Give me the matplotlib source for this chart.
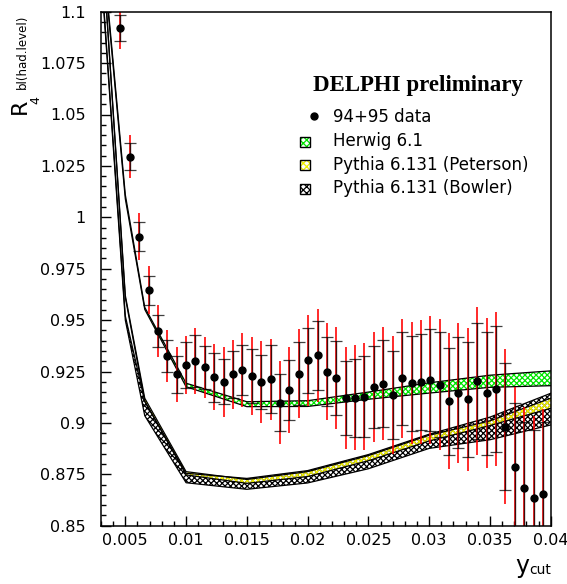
import matplotlib
matplotlib.use('Agg')
import matplotlib.pyplot as plt
from matplotlib.patches import Rectangle
from matplotlib.lines import Line2D

plt.rcParams['hatch.linewidth'] = 0.9

# data points: ycut, R4 value, stat error (black), total error (red)
ycut = [0.00459, 0.00536, 0.00614, 0.00691, 0.00768, 0.00845, 0.00923, 0.01000,
        0.01077, 0.01155, 0.01232, 0.01309, 0.01386, 0.01464, 0.01541, 0.01618,
        0.01696, 0.01773, 0.01850, 0.01927, 0.02005, 0.02082, 0.02159, 0.02236,
        0.02314, 0.02391, 0.02468, 0.02546, 0.02623, 0.02700, 0.02777, 0.02855,
        0.02932, 0.03009, 0.03087, 0.03164, 0.03241, 0.03318, 0.03396, 0.03473,
        0.03550, 0.03628, 0.03705, 0.03782, 0.03859, 0.03937]
r4 = [1.0920, 1.0295, 0.9906, 0.9645, 0.9448, 0.9325, 0.9236, 0.9282,
      0.9301, 0.9270, 0.9222, 0.9200, 0.9236, 0.9257, 0.9228, 0.9198,
      0.9212, 0.9099, 0.9160, 0.9240, 0.9304, 0.9328, 0.9250, 0.9218,
      0.9120, 0.9123, 0.9127, 0.9175, 0.9191, 0.9136, 0.9217, 0.9193,
      0.9199, 0.9209, 0.9186, 0.9105, 0.9147, 0.9115, 0.9204, 0.9144,
      0.9163, 0.8982, 0.8787, 0.8682, 0.8636, 0.8656]
err_stat = [0.0062, 0.0065, 0.0069, 0.0070, 0.0077, 0.0077, 0.0090, 0.0110,
            0.0125, 0.0105, 0.0120, 0.0110, 0.0113, 0.0120, 0.0130, 0.0130,
            0.0166, 0.0140, 0.0146, 0.0152, 0.0160, 0.0168, 0.0170, 0.0178,
            0.0180, 0.0190, 0.0196, 0.0200, 0.0210, 0.0216, 0.0225, 0.0230,
            0.0235, 0.0247, 0.0255, 0.0260, 0.0270, 0.0280, 0.0280, 0.0300,
            0.0306, 0.0310, 0.0310, 0.0320, 0.0330, 0.0350]
err_tot = [0.0100, 0.0105, 0.0113, 0.0116, 0.0126, 0.0126, 0.0134, 0.0140,
           0.0160, 0.0150, 0.0160, 0.0170, 0.0166, 0.0180, 0.0190, 0.0200,
           0.0198, 0.0200, 0.0210, 0.0216, 0.0220, 0.0227, 0.0235, 0.0247,
           0.0247, 0.0257, 0.0260, 0.0267, 0.0276, 0.0285, 0.0290, 0.0296,
           0.0300, 0.0310, 0.0320, 0.0330, 0.0340, 0.0348, 0.0358, 0.0365,
           0.0375, 0.0378, 0.0390, 0.0397, 0.0397, 0.0410]

# MC bands (upper / lower edge at each ycut node)
mc_x = [0.003, 0.005, 0.0066, 0.01, 0.015, 0.02, 0.025, 0.03, 0.035, 0.04]
herwig_hi = [1.140, 1.011, 0.9562, 0.9193, 0.9103, 0.9108, 0.9150, 0.9195, 0.9232, 0.9253]
herwig_lo = [1.138, 1.009, 0.9552, 0.9176, 0.9079, 0.9080, 0.9115, 0.9145, 0.9173, 0.9181]
peterson_hi = [1.142, 0.962, 0.9120, 0.8763, 0.8725, 0.8763, 0.8841, 0.8940, 0.9010, 0.9120]
peterson_lo = [1.141, 0.961, 0.9105, 0.8747, 0.8706, 0.8739, 0.8816, 0.8912, 0.8987, 0.9071]
bowler_hi = [1.122, 0.952, 0.9105, 0.8755, 0.8730, 0.8768, 0.8846, 0.8945, 0.9028, 0.9144]
bowler_lo = [1.120, 0.950, 0.9035, 0.8709, 0.8677, 0.8708, 0.8777, 0.8876, 0.8918, 0.8990]

legend_labels = ['94+95 data', 'Herwig 6.1', 'Pythia 6.131 (Peterson)', 'Pythia 6.131 (Bowler)']
band_colors = ['#00e600', '#f0f000', 'black']

yticks = [0.85, 0.875, 0.9, 0.925, 0.95, 0.975, 1.0, 1.025, 1.05, 1.075, 1.1]
ytick_labels = ['0.85', '0.875', '0.9', '0.925', '0.95', '0.975', '1', '1.025', '1.05', '1.075', '1.1']
xticks = [0.005, 0.01, 0.015, 0.02, 0.025, 0.03, 0.035, 0.04]
xtick_labels = ['0.005', '0.01', '0.015', '0.02', '0.025', '0.03', '0.035', '0.04']

W, H = 567, 584
fig = plt.figure(figsize=(W / 100, H / 100), dpi=100)
ax = fig.add_axes([101 / W, 58.3 / H, 449.7 / W, 514 / H])


def fx(px):
    return px / W


def fy(py):
    return 1 - py / H


# bands
bands = [(bowler_lo, bowler_hi, band_colors[2]),
         (peterson_lo, peterson_hi, band_colors[1]),
         (herwig_lo, herwig_hi, band_colors[0])]
for lo, hi, col in bands:
    ax.fill_between(mc_x, lo, hi, facecolor='none', edgecolor=col, hatch='xxxxxx', lw=0)
    ax.plot(mc_x, hi, color='black', lw=0.9)
    ax.plot(mc_x, lo, color='black', lw=0.9)

# data
ax.errorbar(ycut, r4, yerr=err_tot, fmt='none', ecolor='red', elinewidth=1.3, alpha=0.9)
ax.errorbar(ycut, r4, yerr=err_stat, fmt='none', ecolor='black', elinewidth=1.0,
            capsize=4.5, capthick=0.9, alpha=0.75)
ax.plot(ycut, r4, 'o', color='black', markersize=5)

ax.set_xlim(0.003, 0.04)
ax.set_ylim(0.85, 1.1)
ax.set_xticks(xticks)
ax.set_xticklabels(xtick_labels)
ax.set_yticks(yticks)
ax.set_yticklabels(ytick_labels)
ax.set_xticks([0.001 * k for k in range(3, 41)], minor=True)
ax.set_yticks([0.85 + 0.005 * k for k in range(51)], minor=True)
ax.tick_params(which='both', direction='in', top=False, right=False, labelsize=11.5)
ax.tick_params(which='major', length=7, width=1.0)
ax.tick_params(which='minor', length=3.5, width=1.0)
ax.tick_params(axis='y', pad=11)
ax.tick_params(axis='x', pad=5)
for s in ax.spines.values():
    s.set_linewidth(1.1)

# axis titles
fig.text(fx(515), fy(573), 'y', fontsize=17, ha='left', va='baseline')
fig.text(fx(529), fy(574), 'cut', fontsize=10, ha='left', va='baseline')
fig.text(fx(30), fy(114), 'R', fontsize=16, rotation=90, ha='right', va='bottom')
fig.text(fx(42), fy(104), '4', fontsize=9, rotation=90, ha='right', va='bottom')
fig.text(fx(29), fy(89), 'bl(had.level)', fontsize=8.5, rotation=90, ha='right', va='bottom')

# header and legend
fig.text(fx(313), fy(91.5), 'DELPHI preliminary', fontsize=16.5, fontweight='bold',
         family='Liberation Serif', ha='left', va='baseline')
fig.add_artist(Line2D([fx(313.5)], [fy(116)], marker='o', color='black', markersize=5,
                      transform=fig.transFigure))
text_y = [122.5, 146, 170, 193]
for lab, ty in zip(legend_labels, text_y):
    fig.text(fx(332.7), fy(ty), lab, fontsize=12, ha='left', va='baseline')
for col, ty in zip(band_colors, text_y[1:]):
    x0, y0 = fx(300), fy(ty + 0.5)
    fig.add_artist(Rectangle((x0, y0), 10 / W, 10 / H, transform=fig.transFigure,
                             facecolor='white', edgecolor=col, hatch='xxxxx', lw=0))
    fig.add_artist(Rectangle((x0, y0), 10 / W, 10 / H, transform=fig.transFigure,
                             facecolor='none', edgecolor='black', lw=1.0))

fig.savefig('out.png', dpi=100)
